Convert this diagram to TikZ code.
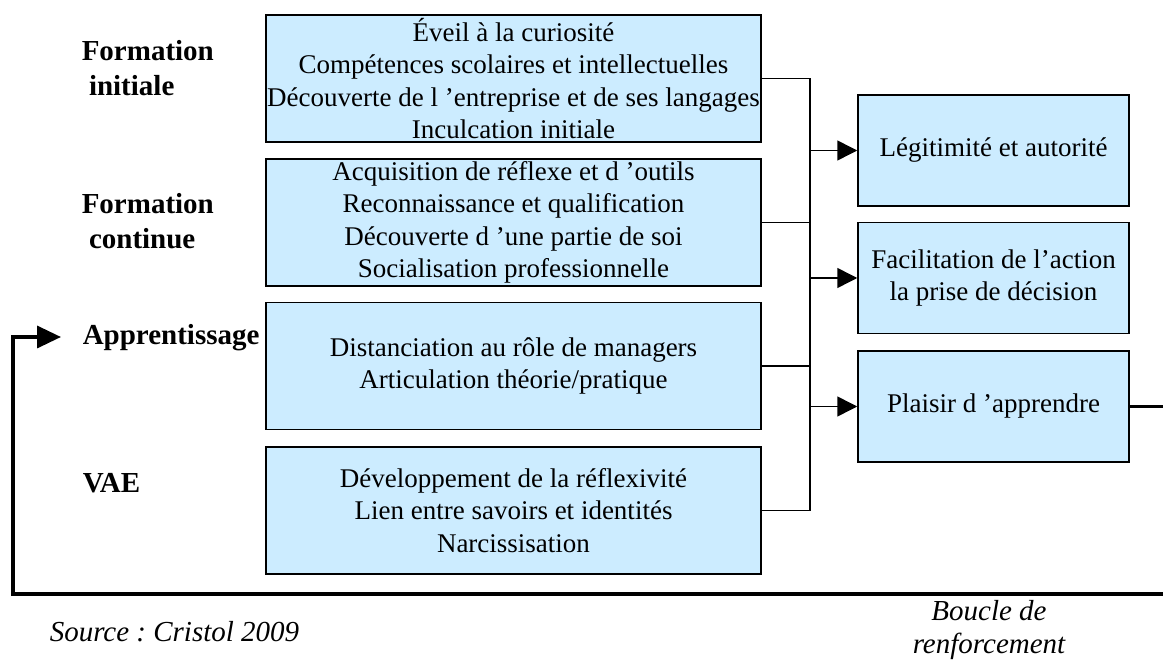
\documentclass[tikz,border=0pt]{standalone}
\usepackage{fontspec}
\setmainfont{Liberation Serif}
\usetikzlibrary{arrows.meta}
\definecolor{bleuclair}{HTML}{CCECFF}
\frenchspacing

\begin{document}
\begin{tikzpicture}[x=1pt, y=-1pt, line width=1.5pt,
  bloc/.style={draw, fill=bleuclair, align=center, inner sep=0pt,
    font=\fontsize{27}{32.5}\selectfont},
  gauche/.style={bloc, minimum width=495pt, minimum height=127pt},
  droite/.style={bloc, minimum width=271pt, minimum height=111pt},
  titre/.style={anchor=west, align=left, inner sep=0pt,
    font=\fontsize{29}{35}\selectfont\bfseries},
  note/.style={inner sep=0pt, font=\fontsize{29}{33}\selectfont\itshape},
  fleche/.style={-{Triangle[length=20pt,width=20pt]}},
  boucle/.style={line width=3.5pt}]

  \clip (0,0) rectangle (1163,660);

  % dispositifs
  \node[titre] (fi) at (81,68)  {Formation\\\ initiale};
  \node[titre] (fc) at (81,221) {Formation\\\ continue};
  \node[titre] (ap) at (82,338) {Apprentissage};
  \node[titre] (va) at (82,483) {VAE};

  % effets de chaque dispositif
  \node[gauche] (b1) at (513.5,78.5) {Éveil à la curiosité\\
    Compétences scolaires et intellectuelles\\
    Découverte de l ’entreprise et de ses langages\\
    Inculcation initiale};
  \node[gauche] (b2) at (513.5,222.5) {Acquisition de réflexe et d ’outils\\
    Reconnaissance et qualification\\
    Découverte d ’une partie de soi\\
    Socialisation professionnelle};
  \node[gauche] (b3) at (513.5,366) {Distanciation au rôle de managers\\
    Articulation théorie/pratique};
  \node[gauche] (b4) at (513.5,510.5) {Développement de la réflexivité\\
    Lien entre savoirs et identités\\
    Narcissisation};

  % résultats
  \node[droite] (r1) at (993.5,150.5) {Légitimité et autorité};
  \node[droite] (r2) at (993.5,278)   {Facilitation de l’action\\la prise de décision};
  \node[droite] (r3) at (993.5,406.5) {Plaisir d ’apprendre};

  % bus vertical
  \coordinate (haut) at (810,78.5);
  \coordinate (bas)  at (810,510.5);
  \draw (b1.east) -- (haut) -- (bas) -- (b4.east);
  \draw (b2.east) -- (b2.east -| haut);
  \draw (b3.east) -- (b3.east -| haut);
  \foreach \r in {r1,r2,r3}
    \draw[fleche] (\r.west -| haut) -- (\r.west);

  % boucle de renforcement (le bord droit sort du cadre)
  \coordinate (coin) at (1180,594);
  \coordinate (bg)   at (13,594);
  \coordinate (pointe) at (61,337);
  \draw[boucle, -{Triangle[length=24pt,width=22pt]}]
    (r3.east) -| (coin) -- (bg) |- (pointe);

  \node[note, anchor=west] (src) at (49,632) {Source : Cristol 2009};
  \node[note, align=center] (bcl) at (989,630) {Boucle de\\renforcement};
\end{tikzpicture}
\end{document}
